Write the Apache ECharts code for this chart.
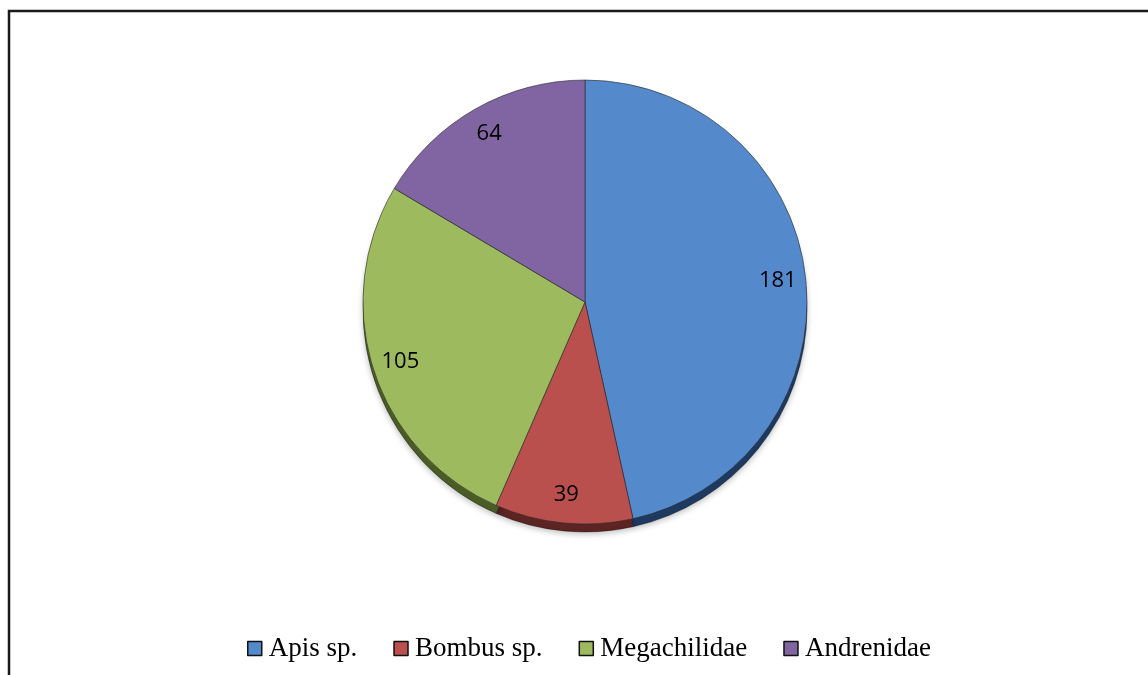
<!DOCTYPE html>
<html>
<head>
<meta charset="utf-8">
<script src="https://cdn.jsdelivr.net/npm/echarts@6/dist/echarts.min.js"></script>
<style>
html,body{margin:0;padding:0;background:#fff;}
#chart{width:1148px;height:675px;}
</style>
</head>
<body>
<div id="chart"></div>
<script>
const categories = ['Apis sp.', 'Bombus sp.', 'Megachilidae', 'Andrenidae'];
const values = [181, 39, 105, 64];
const faceColors = ['#5489CC', '#BA504D', '#9DBB5E', '#8065A2'];
const sideColors = ['#1E3A60', '#5C2422', '#4B5C27', '#40305A'];

const cx = 585, cy = 302, r = 222, depth = 8;

const chart = echarts.init(document.getElementById('chart'), null, {renderer: 'canvas'});

const faceData = categories.map((c, i) => ({
  name: c, value: values[i],
  itemStyle: {color: faceColors[i]}
}));
const sideData = categories.map((c, i) => ({
  name: c, value: values[i],
  itemStyle: {color: sideColors[i]}
}));
const labelData = categories.map((c, i) => ({
  name: c, value: values[i],
  itemStyle: {color: 'rgba(0,0,0,0)'}
}));
const legendData = categories.map((c, i) => ({
  name: c,
  itemStyle: {color: faceColors[i], borderColor: '#111', borderWidth: 1.5}
}));

chart.setOption({
  animation: false,
  backgroundColor: '#fff',
  graphic: [{
    type: 'polyline',
    shape: {points: [[9, 675], [9, 11], [1148, 11]]},
    style: {stroke: '#1a1a1a', lineWidth: 2.5, fill: null},
    z: 100
  }],
  legend: {
    data: legendData,
    left: 242,
    top: 630,
    itemWidth: 14,
    itemHeight: 14,
    itemGap: 36,
    icon: 'rect',
    selectedMode: false,
    textStyle: {fontFamily: '"Liberation Serif", "Times New Roman", serif', fontSize: 27, color: '#000', padding: [0, 0, 0, 2]}
  },
  series: [
    {
      type: 'pie',
      name: 'side',
      center: [cx, cy + depth],
      radius: [0, r],
      startAngle: 90,
      clockwise: true,
      silent: true,
      legendHoverLink: false,
      label: {show: false},
      labelLine: {show: false},
      itemStyle: {borderColor: 'rgba(0,0,0,0.4)', borderWidth: 0.8, shadowColor: 'rgba(0,0,0,0.25)', shadowBlur: 6, shadowOffsetY: 2},
      data: sideData,
      z: 1
    },
    {
      type: 'pie',
      name: 'face',
      center: [cx, cy],
      radius: [0, r],
      startAngle: 90,
      clockwise: true,
      silent: true,
      label: {show: false},
      labelLine: {show: false},
      itemStyle: {borderColor: 'rgba(40,40,40,0.75)', borderWidth: 0.8},
      data: faceData,
      z: 2
    },
    {
      type: 'pie',
      name: 'labels',
      center: [cx, cy],
      radius: [r * 0.72, r],
      startAngle: 90,
      clockwise: true,
      silent: true,
      legendHoverLink: false,
      label: {
        show: true, position: 'inside', formatter: '{c}',
        fontFamily: '"Open Sans", "Noto Sans", sans-serif', fontSize: 22, color: '#000'
      },
      labelLine: {show: false},
      itemStyle: {borderWidth: 0},
      data: labelData,
      z: 3
    }
  ]
});
</script>
</body>
</html>
